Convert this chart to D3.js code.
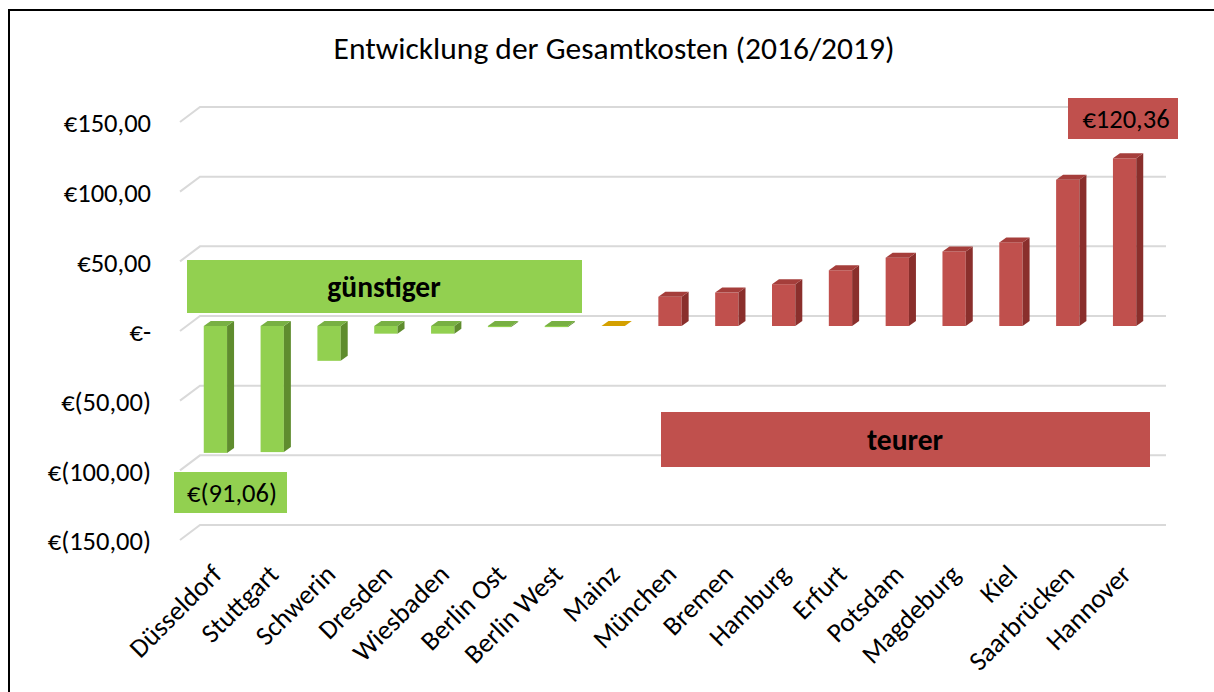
<!DOCTYPE html>
<html>
<head>
<meta charset="utf-8">
<script src="https://cdn.jsdelivr.net/npm/d3@7"></script>
<style>
  body { margin: 0; background: #fff; }
  text { font-family: Carlito, Lato, sans-serif; fill: #000; }
</style>
</head>
<body>
<script>
let w = 1214;
let h = 692;

let cities = ['Düsseldorf', 'Stuttgart', 'Schwerin', 'Dresden', 'Wiesbaden', 'Berlin Ost',
  'Berlin West', 'Mainz', 'München', 'Bremen', 'Hamburg', 'Erfurt', 'Potsdam',
  'Magdeburg', 'Kiel', 'Saarbrücken', 'Hannover'];
let changes = [-91.06, -90.5, -25, -5.5, -5.5, -0.8, -0.8, 0, 21, 24, 30, 40,
  49, 53.5, 60, 105, 120.36];
let yTicks = [150, 100, 50, 0, -50, -100, -150];
let title = 'Entwicklung der Gesamtkosten (2016/2019)';

let dataset = cities.map((c, i) => { return { city: c, value: changes[i] }; });

let fmt = (v) => {
  if (v === 0) return '€-';
  let s = Math.abs(v).toFixed(2).replace('.', ',');
  return v < 0 ? '€(' + s + ')' : '€' + s;
};

let colorOf = (v) => {
  if (v > 0) return { front: '#c0504d', side: '#8a2f2c', top: '#a53e3b' };
  if (v < 0) return { front: '#92d050', side: '#5f8c2e', top: '#78b043' };
  return { front: '#d4a000', side: '#a87e00', top: '#d4a000' };
};

let svg = d3.select('body')
  .append('svg')
  .attr('width', w)
  .attr('height', h);

// frame (only left and top edges visible)
svg.append('path')
  .attr('d', 'M9,692 V10 H1214')
  .attr('fill', 'none')
  .attr('stroke', '#000')
  .attr('stroke-width', 2);

// back wall scale; bars sit a bit in front, axis labels at the front edge
let yScale = d3.scaleLinear().domain([-150, 150]).range([525, 107]);
let xScale = d3.scaleBand().domain(cities).range([187, 1153]).padding(0);

let depth = 15, wallX0 = 200, wallX1 = 1166, frontX = 180;
let barShift = 10, dx = 7, dy = 5;

svg.append('text')
  .attr('x', 614)
  .attr('y', 59)
  .attr('text-anchor', 'middle')
  .attr('font-size', '31.5px')
  .text(title);

// gridlines with the 3D floor edge
svg.selectAll('path.grid')
  .data(yTicks)
  .enter()
  .append('path')
  .attr('class', 'grid')
  .attr('d', (d) => {
    let y = yScale(d);
    return 'M' + frontX + ',' + (y + depth) + ' L' + wallX0 + ',' + y + ' H' + wallX1;
  })
  .attr('fill', 'none')
  .attr('stroke', '#d9d9d9')
  .attr('stroke-width', 2);

svg.selectAll('text.ytick')
  .data(yTicks)
  .enter()
  .append('text')
  .attr('class', 'ytick')
  .attr('x', 151)
  .attr('y', (d) => { return yScale(d) + depth + 1; })
  .attr('dy', '0.35em')
  .attr('text-anchor', 'end')
  .attr('font-size', '26.5px')
  .text(fmt);

// annotation boxes
svg.append('rect')
  .attr('x', 187).attr('y', 260).attr('width', 395).attr('height', 53)
  .attr('fill', '#92d050');
svg.append('text')
  .attr('x', 384).attr('y', 287).attr('dy', '0.35em')
  .attr('text-anchor', 'middle')
  .attr('font-size', '29.5px').attr('font-weight', 'bold')
  .text('günstiger');

// 3D columns
let bw = xScale.bandwidth() * 0.41;
let bars = svg.selectAll('g.bar')
  .data(dataset)
  .enter()
  .append('g')
  .attr('class', 'bar');

let geom = (d) => {
  let x0 = xScale(d.city) + (xScale.bandwidth() - bw) / 2;
  let y0 = yScale(0) + barShift;
  let yv = yScale(d.value) + barShift;
  return { x0: x0, x1: x0 + bw, top: Math.min(y0, yv), bot: Math.max(y0, yv) };
};

bars.append('rect')
  .attr('x', (d) => { return geom(d).x0; })
  .attr('y', (d) => { return geom(d).top; })
  .attr('width', bw)
  .attr('height', (d) => { let g = geom(d); return g.bot - g.top; })
  .attr('fill', (d) => { return colorOf(d.value).front; });

bars.append('path')
  .attr('d', (d) => {
    let g = geom(d);
    return 'M' + g.x1 + ',' + g.top + ' L' + (g.x1 + dx) + ',' + (g.top - dy) +
      ' L' + (g.x1 + dx) + ',' + (g.bot - dy) + ' L' + g.x1 + ',' + g.bot + 'Z';
  })
  .attr('fill', (d) => { return colorOf(d.value).side; });

bars.append('path')
  .attr('d', (d) => {
    let g = geom(d);
    return 'M' + g.x0 + ',' + g.top + ' L' + (g.x0 + dx) + ',' + (g.top - dy) +
      ' L' + (g.x1 + dx) + ',' + (g.top - dy) + ' L' + g.x1 + ',' + g.top + 'Z';
  })
  .attr('fill', (d) => { return colorOf(d.value).top; });

svg.append('rect')
  .attr('x', 661).attr('y', 412).attr('width', 489).attr('height', 55)
  .attr('fill', '#c0504d');
svg.append('text')
  .attr('x', 905).attr('y', 440).attr('dy', '0.35em')
  .attr('text-anchor', 'middle')
  .attr('font-size', '29.5px').attr('font-weight', 'bold')
  .text('teurer');

// min / max value labels
let minD = dataset[d3.minIndex(dataset, (d) => { return d.value; })];
let maxD = dataset[d3.maxIndex(dataset, (d) => { return d.value; })];

svg.append('rect')
  .attr('x', 174).attr('y', 472).attr('width', 113).attr('height', 41)
  .attr('fill', '#92d050');
svg.append('text')
  .attr('x', 232).attr('y', 493).attr('dy', '0.35em')
  .attr('text-anchor', 'middle')
  .attr('font-size', '26.5px')
  .text(fmt(minD.value));

svg.append('rect')
  .attr('x', 1068).attr('y', 98).attr('width', 110).attr('height', 41)
  .attr('fill', '#c0504d');
svg.append('text')
  .attr('x', 1126).attr('y', 119).attr('dy', '0.35em')
  .attr('text-anchor', 'middle')
  .attr('font-size', '26.5px')
  .text(fmt(maxD.value));

// rotated category labels
svg.selectAll('text.xtick')
  .data(cities)
  .enter()
  .append('text')
  .attr('class', 'xtick')
  .attr('transform', (d) => {
    let cx = xScale(d) + xScale.bandwidth() / 2;
    return 'translate(' + (cx + 8) + ',576) rotate(-45)';
  })
  .attr('text-anchor', 'end')
  .attr('font-size', '27px')
  .text((d) => { return d; });
</script>
</body>
</html>
